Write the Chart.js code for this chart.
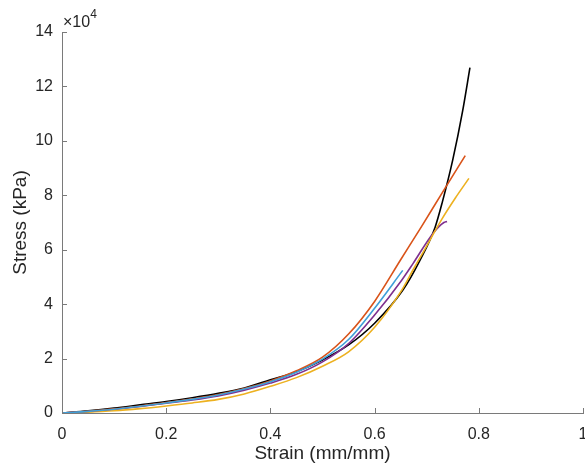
<!DOCTYPE html>
<html>
<head>
<meta charset="utf-8">
<script src="https://cdn.jsdelivr.net/npm/chart.js@4.4.0/dist/chart.umd.min.js"></script>
<style>
html, body { margin: 0; padding: 0; background: #fff; overflow: hidden; }
</style>
</head>
<body>
<canvas id="myChart" width="588" height="471"></canvas>
<script>
// strain (mm/mm) and stress (x10^4 kPa)
const blue_x   = [0, 0.05, 0.1, 0.15, 0.2, 0.25, 0.3, 0.35, 0.4, 0.45, 0.5, 0.55, 0.6, 0.654];
const blue_y   = [0, 0.06, 0.14, 0.25, 0.37, 0.5, 0.66, 0.88, 1.15, 1.5, 1.98, 2.7, 3.85, 5.24];

const orange_x = [0, 0.05, 0.1, 0.15, 0.2, 0.25, 0.3, 0.35, 0.4, 0.45, 0.5, 0.55, 0.6, 0.65, 0.69, 0.73, 0.774];
const orange_y = [0, 0.06, 0.15, 0.26, 0.38, 0.52, 0.68, 0.9, 1.18, 1.55, 2.05, 2.9, 4.1, 5.63, 6.85, 8.1, 9.46];

const yellow_x = [0, 0.05, 0.1, 0.15, 0.2, 0.25, 0.3, 0.35, 0.4, 0.45, 0.5, 0.55, 0.6, 0.65, 0.675, 0.69, 0.73, 0.755, 0.781];
const yellow_y = [0, 0.03, 0.08, 0.16, 0.26, 0.37, 0.5, 0.7, 0.98, 1.3, 1.72, 2.25, 3.15, 4.45, 5.3, 5.8, 7.15, 7.9, 8.62];

const purple_x = [0, 0.05, 0.1, 0.15, 0.2, 0.25, 0.3, 0.35, 0.4, 0.45, 0.5, 0.55, 0.6, 0.652, 0.674, 0.712, 0.733, 0.739];
const purple_y = [0, 0.05, 0.13, 0.24, 0.36, 0.48, 0.63, 0.84, 1.1, 1.42, 1.88, 2.55, 3.6, 4.88, 5.5, 6.6, 7.0, 7.04];

const black_x  = [0, 0.05, 0.1, 0.15, 0.2, 0.25, 0.3, 0.35, 0.4, 0.45, 0.5, 0.55, 0.6, 0.654, 0.687, 0.716, 0.73, 0.75, 0.769, 0.783];
const black_y  = [0, 0.08, 0.18, 0.3, 0.42, 0.56, 0.72, 0.92, 1.22, 1.52, 1.95, 2.5, 3.3, 4.51, 5.61, 6.82, 7.75, 9.3, 11.1, 12.69];

const x_ticks = [0, 0.2, 0.4, 0.6, 0.8, 1];
const y_ticks = [0, 2, 4, 6, 8, 10, 12, 14];

function pts(xs, ys) {
    return xs.map((v, i) => ({ x: v, y: ys[i] }));
}

function line(xs, ys, color) {
    return {
        data: pts(xs, ys),
        borderColor: color,
        borderWidth: 1.6,
        pointRadius: 0,
        fill: false,
        cubicInterpolationMode: 'monotone'
    };
}

const axisColor = '#7a7a7a';
const textColor = '#262626';

// ticks pointing inward (matlab style) + the x10^4 exponent
const matlabBits = {
    id: 'matlabBits',
    afterDraw(chart) {
        const ctx = chart.ctx;
        const xs = chart.scales.x;
        const ys = chart.scales.y;
        const area = chart.chartArea;
        ctx.save();
        ctx.strokeStyle = axisColor;
        ctx.lineWidth = 1;
        ctx.beginPath();
        x_ticks.forEach(v => {
            const px = Math.round(xs.getPixelForValue(v)) + 0.5;
            ctx.moveTo(px, area.bottom);
            ctx.lineTo(px, area.bottom - 5);
        });
        y_ticks.forEach(v => {
            const py = Math.round(ys.getPixelForValue(v)) + 0.5;
            ctx.moveTo(area.left, py);
            ctx.lineTo(area.left + 5, py);
        });
        ctx.stroke();

        ctx.fillStyle = textColor;
        ctx.textBaseline = 'alphabetic';
        ctx.textAlign = 'left';
        ctx.font = '16px "Liberation Sans"';
        ctx.fillText('\u00d710', area.left + 1, 27);
        const w = ctx.measureText('\u00d710').width;
        ctx.font = '12px "Liberation Sans"';
        ctx.fillText('4', area.left + 1 + w, 18);
        ctx.restore();
    }
};

const config = {
    type: 'line',
    data: {
        datasets: [
            line(blue_x, blue_y, '#3f9fd8'),
            line(orange_x, orange_y, '#d95319'),
            line(yellow_x, yellow_y, '#edb120'),
            line(purple_x, purple_y, '#7e2f8e'),
            line(black_x, black_y, '#000000')
        ]
    },
    options: {
        responsive: false,
        animation: false,
        layout: {
            padding: { left: 0, right: 5, top: 32, bottom: 0 }
        },
        plugins: {
            legend: { display: false },
            tooltip: { enabled: false }
        },
        scales: {
            x: {
                type: 'linear',
                min: 0,
                max: 1,
                afterBuildTicks(scale) {
                    scale.ticks = x_ticks.map(v => ({ value: v }));
                },
                afterFit(scale) {
                    scale.height = 58;
                    scale.paddingLeft = 0;
                    scale.paddingRight = 0;
                },
                grid: { display: false, drawTicks: false },
                border: { display: true, color: axisColor, width: 1 },
                ticks: {
                    color: textColor,
                    padding: 12,
                    maxRotation: 0,
                    font: { family: 'Liberation Sans', size: 16 },
                    callback: v => String(v)
                },
                title: {
                    display: true,
                    text: 'Strain (mm/mm)',
                    color: textColor,
                    font: { family: 'Liberation Sans', size: 19 },
                    padding: { top: 0, bottom: 6 }
                }
            },
            y: {
                type: 'linear',
                min: 0,
                max: 14,
                afterBuildTicks(scale) {
                    scale.ticks = y_ticks.map(v => ({ value: v }));
                },
                afterFit(scale) {
                    scale.width = 62;
                    scale.paddingTop = 0;
                    scale.paddingBottom = 0;
                },
                grid: { display: false, drawTicks: false },
                border: { display: true, color: axisColor, width: 1 },
                ticks: {
                    color: textColor,
                    padding: 9,
                    font: { family: 'Liberation Sans', size: 16 },
                    callback: v => String(v)
                },
                title: {
                    display: true,
                    text: 'Stress (kPa)',
                    color: textColor,
                    font: { family: 'Liberation Sans', size: 19 },
                    padding: { top: 9, bottom: 0 }
                }
            }
        }
    },
    plugins: [matlabBits]
};

const myChart = new Chart(document.getElementById('myChart'), config);
</script>
</body>
</html>
